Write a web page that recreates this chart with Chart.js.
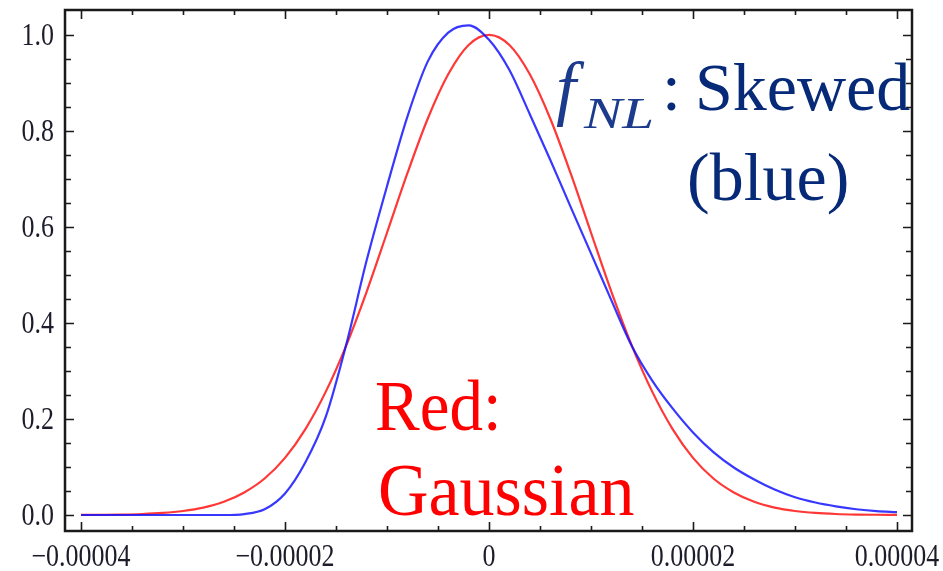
<!DOCTYPE html>
<html>
<head>
<meta charset="utf-8">
<title>fNL skewed vs Gaussian</title>
<script src="https://cdn.jsdelivr.net/npm/chart.js@4.4.1/dist/chart.umd.min.js"></script>
<style>
  html, body { margin: 0; padding: 0; background: #fff; }
  #wrap { width: 943px; height: 571px; }
</style>
</head>
<body>
<div id="wrap"><canvas id="grafik" width="943" height="571"></canvas></div>
<script>
// x positions (same grid for both curves)
let xDegerleri = [
  -0.000040, -0.000038, -0.000036, -0.000034, -0.000032, -0.000030, -0.000028, -0.000026,
  -0.000024, -0.000022, -0.000020, -0.000018, -0.000016, -0.000014, -0.000012, -0.000010,
  -0.000008, -0.000006, -0.000004, -0.000002, 0,
  0.000002, 0.000004, 0.000006, 0.000008, 0.000010, 0.000012, 0.000014, 0.000016,
  0.000018, 0.000020, 0.000022, 0.000024, 0.000026, 0.000028, 0.000030, 0.000032,
  0.000034, 0.000036, 0.000038, 0.000040
];

// red: Gaussian
let kirmiziDeger = [
  0.0002, 0.0005, 0.0010, 0.0021, 0.0043, 0.0084, 0.0155, 0.0275,
  0.047, 0.076, 0.119, 0.179, 0.257, 0.353, 0.465, 0.588,
  0.712, 0.826, 0.918, 0.979, 1.0,
  0.979, 0.918, 0.826, 0.712, 0.588, 0.465, 0.353, 0.257,
  0.179, 0.119, 0.076, 0.047, 0.0275, 0.0155, 0.0084, 0.0043,
  0.0021, 0.0010, 0.0005, 0.0002
];

// blue: skewed (fNL)
let maviDeger = [
  0, 0, 0, 0, 0, 0, 0, 0,
  0.002, 0.012, 0.045, 0.11, 0.205, 0.355, 0.53, 0.685,
  0.83, 0.945, 1.005, 1.02, 0.99,
  0.927, 0.835, 0.74, 0.642, 0.545, 0.447, 0.352, 0.28,
  0.222, 0.172, 0.131, 0.099, 0.074, 0.053, 0.037, 0.026,
  0.018, 0.012, 0.008, 0.006
];

// ticks
let xAnaTikler = [-0.00004, -0.00002, 0, 0.00002, 0.00004];
let xTikEtiketleri = ['\u22120.00004', '\u22120.00002', '0', '0.00002', '0.00004'];
let xAraTikAdim = 0.000005;
let yAnaTikler = [0, 0.2, 0.4, 0.6, 0.8, 1.0];
let yTikEtiketleri = ['0.0', '0.2', '0.4', '0.6', '0.8', '1.0'];
let yAraTikAdim = 0.05;

const SERIF = '"Liberation Serif", "DejaVu Serif", serif';

// text slightly stretched, like the original picture
function yaziYaz(ctx, metin, x, y, dikeyOlcek, yatayOlcek) {
  ctx.save();
  ctx.translate(x, y);
  ctx.scale(yatayOlcek || 1, dikeyOlcek);
  ctx.fillText(metin, 0, 0);
  ctx.restore();
}

// Mathematica-style frame with inward ticks and labels
const cerceveEklentisi = {
  id: 'cerceve',
  afterDatasetsDraw(chart) {
    let ctx = chart.ctx;
    let a = chart.chartArea;
    let sx = chart.scales.x;
    let sy = chart.scales.y;
    ctx.save();
    ctx.strokeStyle = '#1a1a1a';
    ctx.lineWidth = 1.6;
    // minor + major ticks on x (bottom and top)
    for (let i = -8; i <= 8; i++) {
      let v = i * xAraTikAdim;
      let px = Math.round(sx.getPixelForValue(v)) + 0.5;
      let uz = (i % 4 === 0) ? 9 : 5;
      ctx.beginPath();
      ctx.moveTo(px, a.bottom); ctx.lineTo(px, a.bottom - uz);
      ctx.moveTo(px, a.top); ctx.lineTo(px, a.top + uz);
      ctx.stroke();
    }
    // y ticks (left and right)
    for (let i = 0; i <= 20; i++) {
      let v = i * yAraTikAdim;
      let py = Math.round(sy.getPixelForValue(v)) + 0.5;
      let uz = (i % 4 === 0) ? 9 : 6;
      ctx.beginPath();
      ctx.moveTo(a.left, py); ctx.lineTo(a.left + uz, py);
      ctx.moveTo(a.right, py); ctx.lineTo(a.right - uz, py);
      ctx.stroke();
    }
    // frame
    ctx.lineWidth = 2.5;
    ctx.strokeRect(a.left, a.top, a.right - a.left, a.bottom - a.top);

    // tick labels
    ctx.fillStyle = '#1c1c2a';
    ctx.font = '26px ' + SERIF;
    ctx.textBaseline = 'alphabetic';
    ctx.textAlign = 'center';
    xAnaTikler.forEach(function(v, i) {
      yaziYaz(ctx, xTikEtiketleri[i], sx.getPixelForValue(v), 566, 1.2);
    });
    ctx.textAlign = 'right';
    yAnaTikler.forEach(function(v, i) {
      yaziYaz(ctx, yTikEtiketleri[i], 54, sy.getPixelForValue(v) + 10, 1.2);
    });

    // annotations
    ctx.textAlign = 'left';
    ctx.fillStyle = '#ff0000';
    ctx.font = '67px ' + SERIF;
    yaziYaz(ctx, 'Red:', 375, 430, 1.08);
    ctx.font = '70px ' + SERIF;
    yaziYaz(ctx, 'Gaussian', 378, 515, 1.05);

    ctx.fillStyle = '#1d3b8c';
    ctx.font = 'italic 72px ' + SERIF;
    ctx.fillText('f', 556, 112);
    ctx.font = 'italic 44px ' + SERIF;
    yaziYaz(ctx, 'NL', 584, 128, 1, 1.3);
    ctx.fillStyle = '#062a78';
    ctx.font = '68px ' + SERIF;
    ctx.fillText(':', 662, 110);
    ctx.fillText('Skewed', 695, 110);
    ctx.fillText('(blue)', 687, 200);
    ctx.restore();
  }
};

let ctx = document.getElementById('grafik');
new Chart(ctx, {
  type: 'line',
  data: {
    datasets: [
      {
        label: 'Skewed',
        data: xDegerleri.map((x, i) => ({ x: x, y: maviDeger[i] })),
        borderColor: 'rgba(20, 20, 255, 0.85)',
        borderWidth: 2.2,
        pointRadius: 0,
        fill: false,
        cubicInterpolationMode: 'monotone'
      },
      {
        label: 'Gaussian',
        data: xDegerleri.map((x, i) => ({ x: x, y: kirmiziDeger[i] })),
        borderColor: 'rgba(255, 20, 20, 0.85)',
        borderWidth: 2.2,
        pointRadius: 0,
        fill: false,
        cubicInterpolationMode: 'monotone'
      }
    ]
  },
  options: {
    responsive: false,
    animation: false,
    devicePixelRatio: 1,
    layout: { padding: { left: 65, right: 31, top: 10, bottom: 40 } },
    plugins: { legend: { display: false }, tooltip: { enabled: false } },
    scales: {
      x: { type: 'linear', min: -0.00004157, max: 0.00004147, display: false },
      y: { type: 'linear', min: -0.0333, max: 1.052, display: false }
    }
  },
  plugins: [cerceveEklentisi]
});
</script>
</body>
</html>
